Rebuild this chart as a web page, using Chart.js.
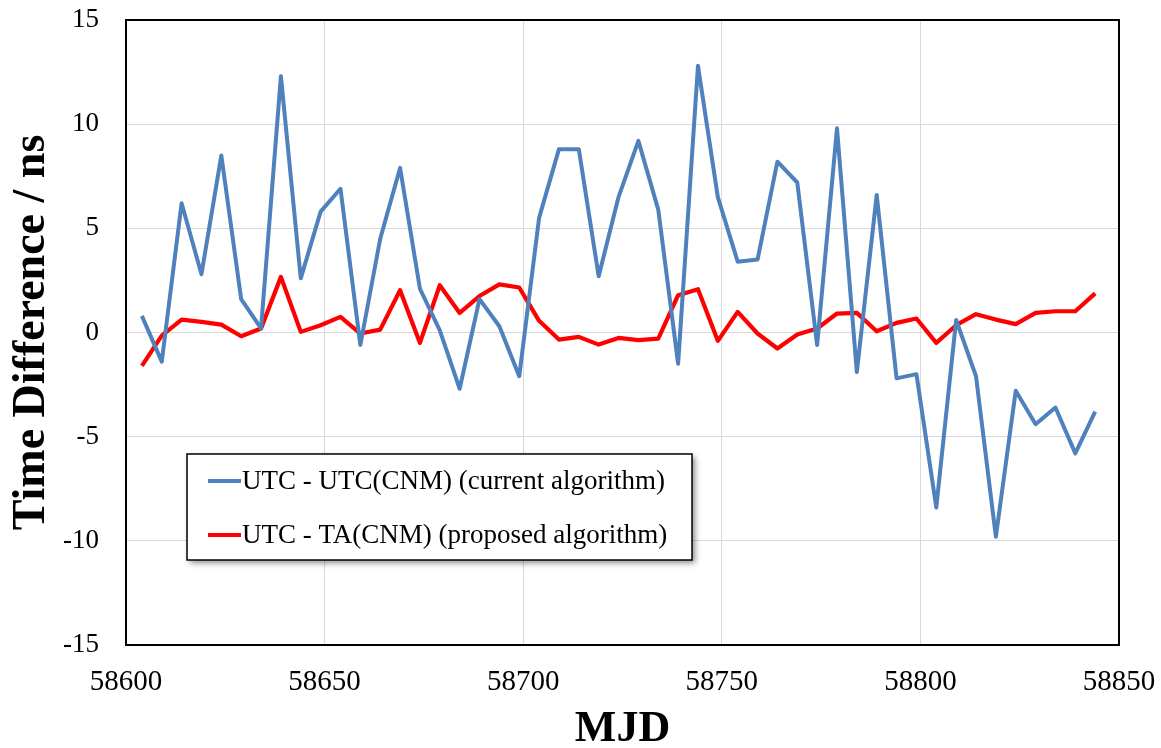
<!DOCTYPE html>
<html>
<head>
<meta charset="utf-8">
<script src="https://cdn.jsdelivr.net/npm/chart.js@4.4.0/dist/chart.umd.min.js"></script>
<style>
  body { margin: 0; background: #fff; }
  #wrap { width: 1161px; height: 748px; }
</style>
</head>
<body>
<div id="wrap"><canvas id="myChart"></canvas></div>
<script>
// MJD of each measurement
let mjd = [58604, 58609, 58614, 58619, 58624, 58629, 58634, 58639, 58644, 58649,
           58654, 58659, 58664, 58669, 58674, 58679, 58684, 58689, 58694, 58699,
           58704, 58709, 58714, 58719, 58724, 58729, 58734, 58739, 58744, 58749,
           58754, 58759, 58764, 58769, 58774, 58779, 58784, 58789, 58794, 58799,
           58804, 58809, 58814, 58819, 58824, 58829, 58834, 58839, 58844];

// UTC - UTC(CNM), ns
let utcCnm = [0.8, -1.4, 6.2, 2.8, 8.5, 1.6, 0.2, 12.3, 2.6, 5.8,
              6.9, -0.6, 4.5, 7.9, 2.1, 0.1, -2.7, 1.6, 0.3, -2.1,
              5.5, 8.8, 8.8, 2.7, 6.5, 9.2, 5.9, -1.5, 12.8, 6.5,
              3.4, 3.5, 8.2, 7.2, -0.6, 9.8, -1.9, 6.6, -2.2, -2.0,
              -8.4, 0.6, -2.1, -9.8, -2.8, -4.4, -3.6, -5.8, -3.8];

// UTC - TA(CNM), ns
let utcTa = [-1.6, -0.15, 0.62, 0.51, 0.38, -0.18, 0.19, 2.67, 0.03, 0.35,
             0.75, -0.05, 0.14, 2.03, -0.5, 2.27, 0.94, 1.75, 2.31, 2.16,
             0.56, -0.34, -0.21, -0.58, -0.26, -0.37, -0.29, 1.79, 2.08, -0.4,
             0.99, -0.05, -0.77, -0.1, 0.19, 0.91, 0.94, 0.06, 0.46, 0.67,
             -0.5, 0.35, 0.88, 0.62, 0.4, 0.94, 1.02, 1.02, 1.88];

let seriesNames = ['UTC - UTC(CNM) (current algorithm)', 'UTC - TA(CNM) (proposed algorithm)'];
let xTicks = [58600, 58650, 58700, 58750, 58800, 58850];
let yTicks = [-15, -10, -5, 0, 5, 10, 15];

const serif = '"Liberation Serif", "Times New Roman", serif';

function toPoints(ys){
    return mjd.map((m, i) => ({x: m, y: ys[i]}));
}

// black frame round the plot area
const frame = {
    id: 'frame',
    beforeDatasetsDraw(chart){
        let a = chart.chartArea, c = chart.ctx;
        c.save();
        c.strokeStyle = '#000';
        c.lineWidth = 2;
        c.strokeRect(a.left, a.top, a.right - a.left, a.bottom - a.top);
        c.restore();
    }
};

// legend box drawn inside the plot, like the excel one
const boxLegend = {
    id: 'boxLegend',
    afterDatasetsDraw(chart){
        let a = chart.chartArea, c = chart.ctx;
        let bx = a.left + 61, by = a.top + 434, bw = 505, bh = 106;
        c.save();
        c.shadowColor = 'rgba(0,0,0,0.45)';
        c.shadowBlur = 6;
        c.shadowOffsetX = 3;
        c.shadowOffsetY = 3;
        c.fillStyle = '#fff';
        c.fillRect(bx, by, bw, bh);
        c.restore();
        c.save();
        c.strokeStyle = '#000';
        c.lineWidth = 1.5;
        c.strokeRect(bx, by, bw, bh);
        c.font = '27px ' + serif;
        c.textBaseline = 'middle';
        c.fillStyle = '#000';
        chart.data.datasets.forEach((ds, i) => {
            let y = by + 27 + i * 54;
            c.strokeStyle = ds.borderColor;
            c.lineWidth = 4;
            c.beginPath();
            c.moveTo(bx + 21, y);
            c.lineTo(bx + 54, y);
            c.stroke();
            c.fillText(ds.label, bx + 55, y + 1);
        });
        c.restore();
    }
};

const ctx = document.getElementById('myChart');

let myChart = new Chart(ctx, {
    type: 'line',
    data: {
        datasets: [{
            label: seriesNames[0],
            data: toPoints(utcCnm),
            borderColor: '#4f81bd',
            borderWidth: 4,
            pointRadius: 0,
            tension: 0,
            borderJoinStyle: 'round'
        }, {
            label: seriesNames[1],
            data: toPoints(utcTa),
            borderColor: '#ff0000',
            borderWidth: 4.2,
            pointRadius: 0,
            tension: 0,
            borderJoinStyle: 'round'
        }]
    },
    options: {
        responsive: true,
        maintainAspectRatio: false,
        animation: false,
        layout: { padding: { top: 20, right: 42, left: 0, bottom: 0 } },
        plugins: {
            legend: { display: false },
            tooltip: { enabled: false }
        },
        scales: {
            x: {
                type: 'linear',
                min: xTicks[0],
                max: xTicks[xTicks.length - 1],
                afterBuildTicks: s => { s.ticks = xTicks.map(v => ({value: v})); },
                afterFit: s => { s.height = 103; s.paddingLeft = 0; s.paddingRight = 0; },
                border: { display: false },
                grid: { color: '#d9d9d9', lineWidth: 1, drawTicks: false },
                ticks: {
                    color: '#000',
                    font: { family: serif, size: 29 },
                    padding: 20,
                    callback: v => String(v)
                },
                title: {
                    display: true,
                    text: 'MJD',
                    color: '#000',
                    font: { family: serif, size: 44, weight: 'bold', lineHeight: 0.85 },
                    padding: 0
                }
            },
            y: {
                min: yTicks[0],
                max: yTicks[yTicks.length - 1],
                afterBuildTicks: s => { s.ticks = yTicks.map(v => ({value: v})); },
                afterFit: s => { s.width = 126; s.paddingTop = 0; s.paddingBottom = 0; },
                border: { display: false },
                grid: { color: '#d9d9d9', lineWidth: 1, drawTicks: false },
                ticks: {
                    color: '#000',
                    font: { family: serif, size: 27 },
                    padding: 27
                },
                title: {
                    display: true,
                    text: 'Time Difference / ns',
                    color: '#000',
                    font: { family: serif, size: 46, weight: 'bold', lineHeight: 1 },
                    padding: { top: 9, bottom: 0 }
                }
            }
        }
    },
    plugins: [frame, boxLegend]
});
</script>
</body>
</html>
